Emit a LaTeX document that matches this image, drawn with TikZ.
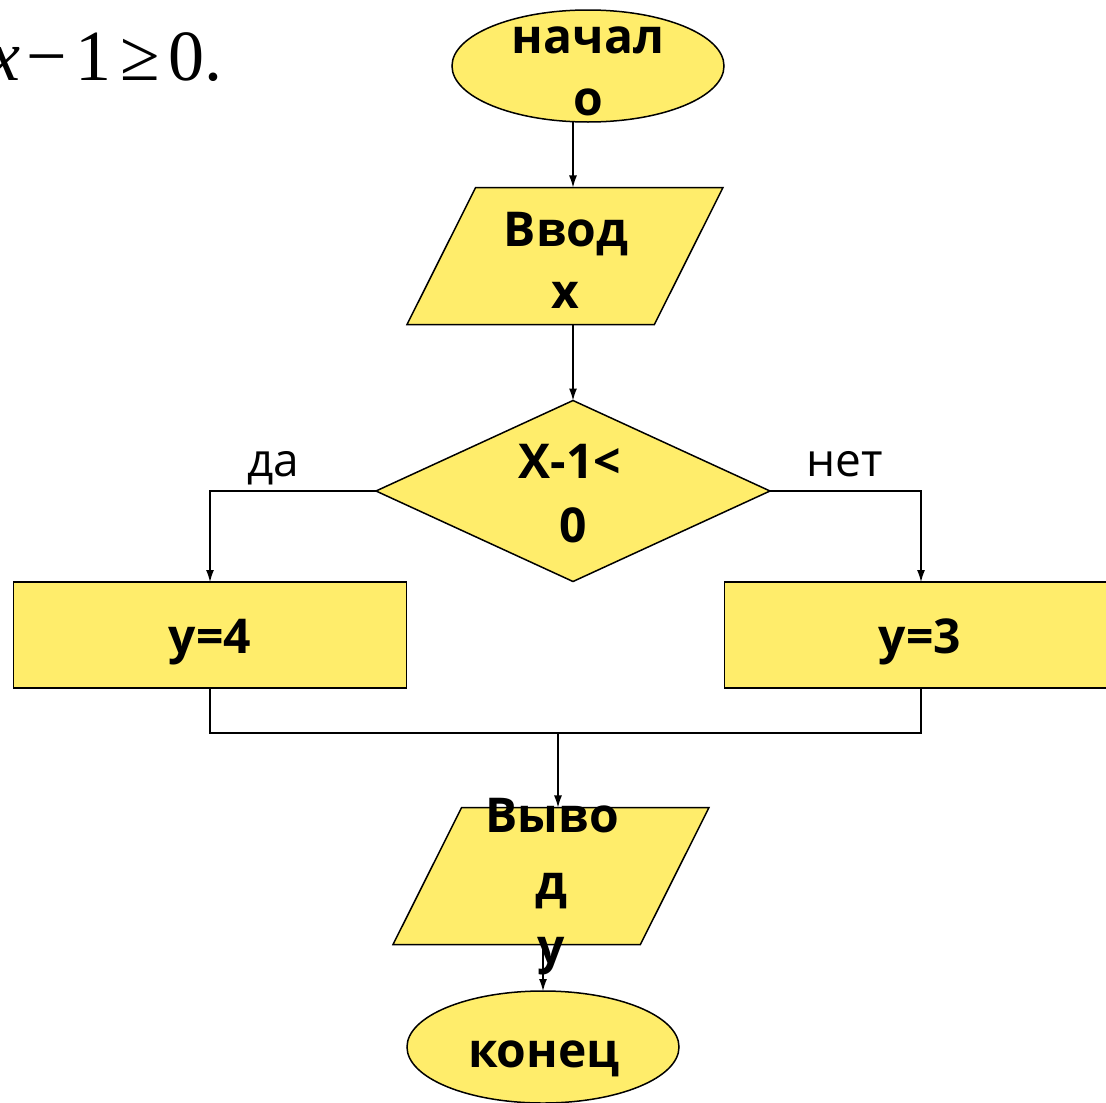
\documentclass[tikz,border=0pt]{standalone}
\usepackage{fontspec}
\setmainfont{Open Sans}
\newfontfamily\mathserif{Liberation Serif}
\usetikzlibrary{shapes.geometric,arrows.meta}
\definecolor{boxyellow}{RGB}{255,237,107}
\tikzset{
  shapebox/.style={draw=black,fill=boxyellow,line width=1.5pt,inner sep=0pt,outer sep=0pt},
  startend/.style={shapebox,ellipse,minimum width=272pt,minimum height=112pt},
  iobox/.style={shapebox,trapezium,inner sep=2pt,trapezium left angle=69,trapezium right angle=111,trapezium stretches=true,minimum width=316pt,minimum height=137pt},
  decision/.style={shapebox,diamond,minimum width=394pt,minimum height=181pt},
  actbox/.style={shapebox,rectangle,minimum width=393pt,minimum height=106pt},
  txt/.style={anchor=base,inner sep=0pt,font=\fontsize{48}{58}\selectfont\bfseries},
  lbl/.style={anchor=base,inner sep=0pt,font=\fontsize{46}{56}\selectfont},
  conn/.style={line width=1.2pt,-{Latex[length=12pt,width=8pt]}},
  line/.style={line width=1.2pt}
}
\begin{document}
\begin{tikzpicture}[x=1pt,y=-1pt]
\useasboundingbox (0,0) rectangle (1106,1103);
% formula
\node[anchor=base west,inner sep=0pt,font=\mathserif\fontsize{72}{84}\selectfont] (formula) at (-12,80) {\textit{x}\kern6pt−\kern9pt1\kern9pt≥\kern8pt0.};
% shapes
\node[startend] (start) at (588,66) {};
\node[iobox] (input) at (565,256) {};
\node[decision] (cond) at (573,491) {};
\node[actbox] (yes) at (210,635) {};
\node[actbox] (no) at (921,635) {};
\node[iobox] (output) at (551,876) {};
\node[startend] (stop) at (543,1047) {};
% texts
\node[txt] (t1) at (588,53) {начал};
\node[txt] (t2) at (588,115) {о};
\node[txt] (t3) at (566,246) {Ввод};
\node[txt] (t4) at (565,308) {х};
\node[txt] (t5) at (570,478) {X-1<};
\node[txt] (t6) at (573,542) {0};
\node[txt] (t7) at (210,653) {y=4};
\node[txt] (t8) at (920,653) {y=3};
\node[txt] (t9) at (552,832) {Выво};
\node[txt] (t10) at (551,899) {д};
\node[txt] (t11) at (551,963) {у};
\node[txt] (t12) at (544,1067) {конец};
\node[lbl] (yeslbl) at (273,476) {да};
\node[lbl] (nolbl) at (845,476) {нет};
% connectors
\coordinate (ax) at (573,0);
\coordinate (bx) at (543,0);
\coordinate (m) at (558,733);
\draw[conn] (start.south -| ax) -- (input.north -| ax);
\draw[conn] (input.south -| ax) -- (cond.north);
\draw[conn] (cond.west) -| (yes.north);
\draw[conn] (cond.east) -| (no.north);
\draw[line] (yes.south) |- (m) -| (no.south);
\draw[conn] (m) -- (output.north -| m);
\draw[conn] (output.south -| bx) -- (stop.north);
\end{tikzpicture}
\end{document}
